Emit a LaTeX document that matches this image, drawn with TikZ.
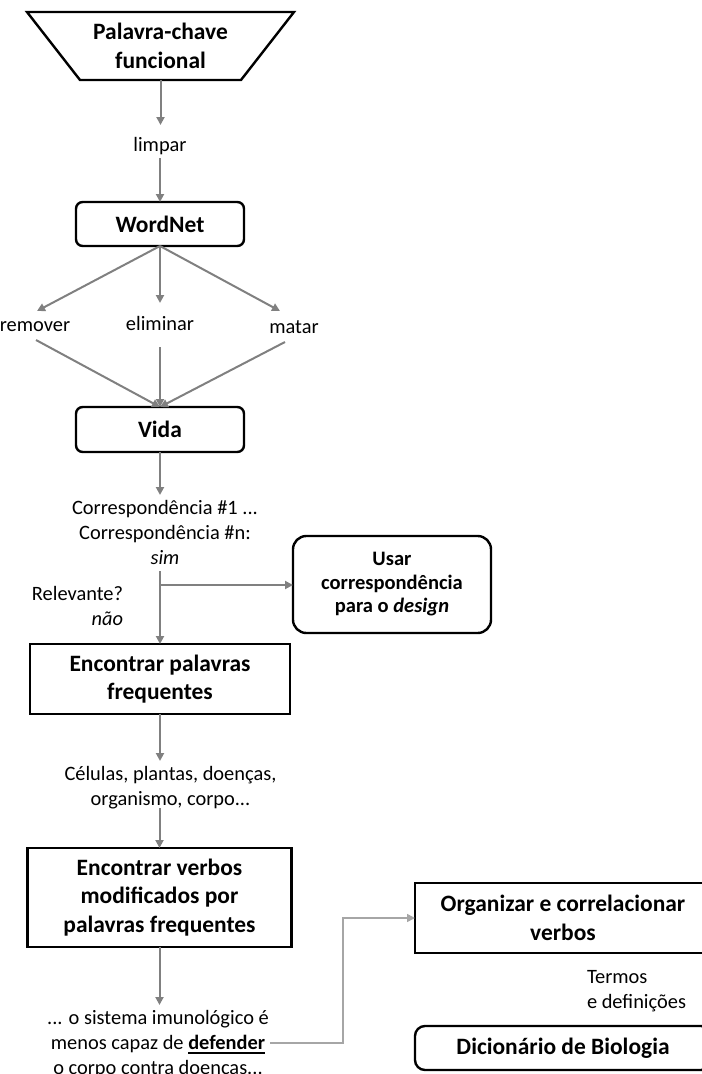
\documentclass[tikz,border=0pt]{standalone}
\usepackage{fontspec}
\setmainfont{Carlito}
\usetikzlibrary{arrows.meta,calc}

% type sizes (the picture is laid out in px, 1px = 0.75pt)
\newcommand\fBox{\fontsize{17.6pt}{21.4pt}\selectfont\bfseries}
\newcommand\fUse{\fontsize{15.4pt}{17.6pt}\selectfont\bfseries}
\newcommand\fLbl{\fontsize{15.3pt}{18.6pt}\selectfont}
% heavy underline for the highlighted verb
\newcommand\ulword[1]{\vtop{\hbox{#1}\kern2.2pt\hrule height 1.2pt}}

\definecolor{flow}{HTML}{808080}
\definecolor{flowlight}{HTML}{A6A6A6}

\tikzset{
  every node/.style={inner sep=0pt, outer sep=0pt},
  proc/.style={draw=black, line width=1.8pt, fill=white, align=center, font=\fBox},
  rproc/.style={proc, rounded corners=5pt},
  lbl/.style={align=center, font=\fLbl},
  arr/.style={draw=flow, line width=1.5pt, -{Triangle[length=6pt,width=6pt]}},
  arrlight/.style={draw=flowlight, line width=1.2pt, -{Triangle[length=6pt,width=6pt]}},
}

\begin{document}
\begin{tikzpicture}[x=0.75pt,y=-0.75pt]
\useasboundingbox (0,0) rectangle (702,1074);
\clip (0,0) rectangle (702,1074);

% ---- main column ----
\node[font=\fBox, align=center, minimum width=120.75pt, minimum height=51pt] (kw) at (160.5,46) {Palavra-chave\\funcional};
\draw[line width=1.8pt] ([xshift=-39.75pt]kw.north west) -- ([xshift=39.75pt]kw.north east)
  -- (kw.south east) -- (kw.south west) -- cycle;

\node[lbl, anchor=base] (limpar) at (160,151) {limpar};
\node[rproc, minimum width=126pt, minimum height=33pt] (wn) at (160,224) {WordNet};

\node[lbl, anchor=base] (rem) at (35,331) {remover};
\node[lbl, anchor=base] (elim) at (160,330) {eliminar};
\node[lbl, anchor=base] (mat) at (294,333) {matar};

\node[rproc, minimum width=126pt, minimum height=33.75pt] (vida) at (160,429.5) {Vida};

% multi-line labels are placed by the baseline of their last line
\node[lbl, anchor=base] (corr) at (165,564) {Correspondência \#1 ...\\Correspondência \#n:\\\textit{sim}};
\node[lbl, align=right, anchor=base east] (rel) at (123,625) {Relevante?\\\textit{não}};
\node[proc, font=\fUse, rounded corners=10pt, minimum width=148.5pt, minimum height=72.75pt] (usar) at (392,584.5)
  {Usar\\correspondência\\para o \textit{design}};

\node[proc, minimum width=195pt, minimum height=52.5pt] (enc1) at (160,679) {Encontrar palavras\\frequentes};
\node[lbl, anchor=base] (cells) at (170.5,805) {Células, plantas, doenças,\\organismo, corpo...};
\node[proc, minimum width=198pt, minimum height=74.25pt] (enc2) at (159.5,897.5) {Encontrar verbos\\modificados por\\palavras frequentes};
\node[lbl, anchor=base] (ctx) at (158,1074) {... o sistema imunológico é\\menos capaz de \ulword{\textbf{defender}}\\o corpo contra doenças...};

% ---- right column ----
\node[proc, minimum width=222pt, minimum height=52.5pt] (org) at (563,918) {Organizar e correlacionar\\verbos};
\node[lbl, align=left, anchor=base west] (terms) at (587,1008) {Termos\\e definições};
\node[rproc, rounded corners=7.5pt, minimum width=222pt, minimum height=33pt] (dic) at (563,1048) {Dicionário de Biologia};

% ---- connectors ----
\draw[arr] (kw.south) -- ($(kw.south |- limpar.base)+(0,-26)$);
\draw[arr] ($(limpar.base)+(0,7)$) -- (wn.north);

\draw[arr] (wn.south) -- ($(rem.base)+(2,-20)$);
\draw[arr] (wn.south) -- ($(elim.base)+(0,-27)$);
\draw[arr] (wn.south) -- ($(mat.base)+(-14,-22)$);

\draw[arr] ($(rem.base)+(1,9)$) -- (vida.north);
\draw[arr] ($(elim.base)+(0,17)$) -- (vida.north);
\draw[arr] ($(mat.base)+(-9,9)$) -- (vida.north);

\draw[arr] (vida.south) -- ($(vida.south |- corr.base)+(0,-69)$);
\coordinate (junc) at ($(enc1.north |- corr.base)+(0,21)$);
\draw[arr] ($(enc1.north |- corr.base)+(0,7)$) -- (enc1.north);
\draw[arr] (junc) -- (junc -| usar.west);

\draw[arr] (enc1.south) -- ($(enc1.south |- cells.base)+(0,-44)$);
\draw[arr] ($(enc2.north |- cells.base)+(0,3)$) -- (enc2.north);
\draw[arr] (enc2.south) -- ($(enc2.south |- ctx.base)+(0,-69)$);

\coordinate (defend-end) at ($(ctx.base)+(112,-31)$);
\coordinate (elbow) at ($(defend-end)+(73,0)$);
\draw[arrlight] (defend-end) -- (elbow) |- (org.west);
\end{tikzpicture}
\end{document}
